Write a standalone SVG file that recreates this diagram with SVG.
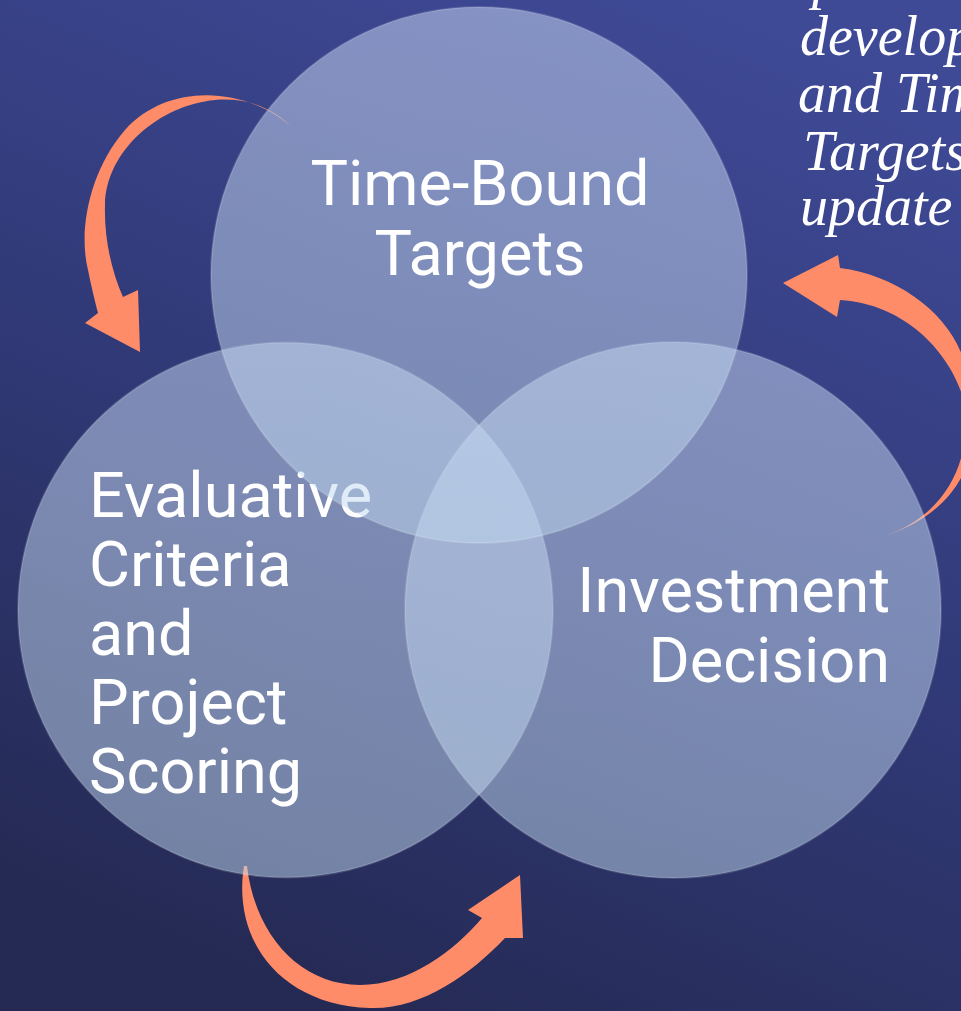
<svg xmlns="http://www.w3.org/2000/svg" width="961" height="1011" viewBox="0 0 961 1011">
  <defs>
    <linearGradient id="bg" x1="0.75" y1="0" x2="0.35" y2="1">
      <stop offset="0" stop-color="#3f4a97"/>
      <stop offset="0.5" stop-color="#313a78"/>
      <stop offset="1" stop-color="#252a54"/>
    </linearGradient>
    <linearGradient id="cf" x1="0" y1="0" x2="0" y2="1">
      <stop offset="0" stop-color="#cddcf6"/>
      <stop offset="1" stop-color="#bfd8ee"/>
    </linearGradient>
    <style>
      .circ { fill: url(#cf); fill-opacity: 0.5; stroke: #ffffff; stroke-opacity: 0.15; stroke-width: 2; }
      .lbl { font-family: Roboto, "Liberation Sans", sans-serif; font-size: 63px; fill: #ffffff; }
      .note { font-family: "Liberation Serif", "DejaVu Serif", serif; font-style: italic; font-size: 56px; fill: #ffffff; }
      .arrow { fill: #ff8c68; }
    </style>
  </defs>
  <rect x="0" y="0" width="961" height="1011" fill="url(#bg)"/>

  <g id="connectors">
    <path class="arrow" d="M 294,129 C 250,88 170,80 125,130 C 90,170 78,230 88,270 C 92,290 96,305 98,313 L 85,323 L 140,352 L 138,290 L 123,297 C 112,272 104,240 105,205 C 106,150 160,105 215,100 C 250,97 275,110 294,129 Z"/>
    <path class="arrow" d="M 840,268 C 895,275 945,310 962,355 C 990,425 978,505 885,536 C 945,515 968,465 966,415 C 964,375 920,305 840,300 L 837,317 L 783,283 L 838,255 Z"/>
    <path class="arrow" d="M 244,866 C 232,940 280,1005 370,1008 C 420,1010 470,975 505,938 L 523,938 L 520,875 L 468,910 L 482,918 C 455,950 410,985 360,985 C 300,985 255,935 247,866 Z"/>
  </g>

  <g id="node-evaluative">
    <circle class="circ" cx="285.5" cy="610" r="267.5"/>
    <text class="lbl" x="89" y="517">Evaluative</text>
    <text class="lbl" x="89" y="586">Criteria</text>
    <text class="lbl" x="89" y="655">and</text>
    <text class="lbl" x="89" y="724">Project</text>
    <text class="lbl" x="89" y="793">Scoring</text>
  </g>

  <g id="node-investment">
    <circle class="circ" cx="673" cy="610" r="268"/>
    <text class="lbl" x="890" y="612" text-anchor="end">Investment</text>
    <text class="lbl" x="890" y="682" text-anchor="end">Decision</text>
  </g>

  <g id="node-timebound">
    <circle class="circ" cx="479" cy="275" r="268"/>
    <text class="lbl" x="480" y="205" text-anchor="middle">Time-Bound</text>
    <text class="lbl" x="480" y="275" text-anchor="middle">Targets</text>
  </g>

  <g id="note">
    <text class="note" x="812" y="-2">p</text>
    <text class="note" x="800" y="55">develop</text>
    <text class="note" x="798" y="112">and Tim</text>
    <text class="note" x="803" y="170">Targets</text>
    <text class="note" x="800" y="225">update</text>
  </g>
</svg>
